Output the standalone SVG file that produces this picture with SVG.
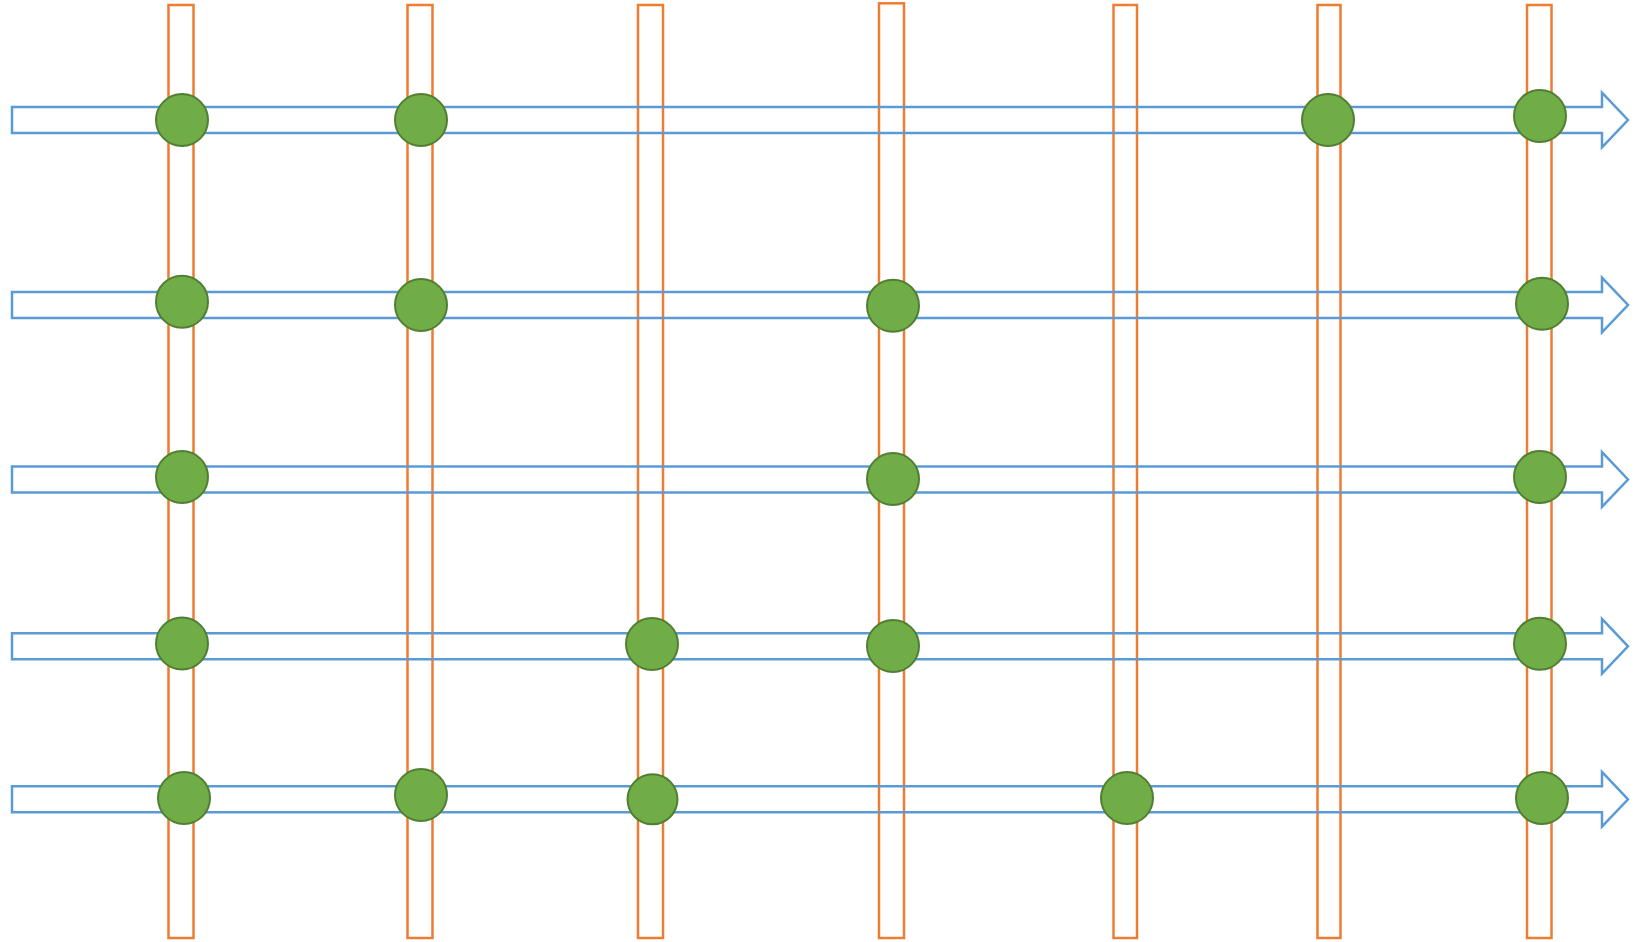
<svg xmlns="http://www.w3.org/2000/svg" width="1647" height="942" viewBox="0 0 1647 942">
<style>
.col{fill:none;stroke:#ED7D31;stroke-width:2.5}
.arr{fill:none;stroke:#5B9BD5;stroke-width:2.5;stroke-linejoin:miter}
.dot{fill:#70AD47;stroke:#507E32;stroke-width:2}
</style>
<defs>
<path id="arrow" d="M12,-13 H1602 V-27.3 L1628,0 L1602,27.3 V13 H12 Z"/>
</defs>
<rect width="1647" height="942" fill="#ffffff"/>
<g id="columns">
<rect id="col1" class="col" x="168.5" y="5" width="25" height="933"/>
<rect id="col2" class="col" x="407.5" y="5" width="25" height="933"/>
<rect id="col3" class="col" x="638" y="5" width="25" height="933"/>
<rect id="col4" class="col" x="879" y="3.3" width="25" height="934.7"/>
<rect id="col5" class="col" x="1113.5" y="5" width="23.5" height="933"/>
<rect id="col6" class="col" x="1317.5" y="5" width="23" height="933"/>
<rect id="col7" class="col" x="1527" y="5" width="24.5" height="933"/>
</g>
<g id="connectors">
<use href="#arrow" class="arr" transform="translate(0,120)"/>
<use href="#arrow" class="arr" transform="translate(0,305)"/>
<use href="#arrow" class="arr" transform="translate(0,479.5)"/>
<use href="#arrow" class="arr" transform="translate(0,646.3)"/>
<use href="#arrow" class="arr" transform="translate(0,799.3)"/>
</g>
<g id="nodes">
<g id="r1c1"><circle class="dot" cx="182" cy="120" r="26"/></g>
<g id="r1c2"><circle class="dot" cx="421" cy="120" r="26"/></g>
<g id="r1c6"><circle class="dot" cx="1328" cy="120" r="26"/></g>
<g id="r1c7"><circle class="dot" cx="1540" cy="116" r="26"/></g>
<g id="r2c1"><circle class="dot" cx="182" cy="301.7" r="26"/></g>
<g id="r2c2"><circle class="dot" cx="421" cy="305" r="26"/></g>
<g id="r2c4"><circle class="dot" cx="893" cy="305.7" r="26"/></g>
<g id="r2c7"><circle class="dot" cx="1542" cy="303.7" r="26"/></g>
<g id="r3c1"><circle class="dot" cx="182" cy="477" r="26"/></g>
<g id="r3c4"><circle class="dot" cx="893" cy="479" r="26"/></g>
<g id="r3c7"><circle class="dot" cx="1540" cy="477" r="26"/></g>
<g id="r4c1"><circle class="dot" cx="182" cy="643.5" r="26"/></g>
<g id="r4c3"><circle class="dot" cx="652" cy="644" r="26"/></g>
<g id="r4c4"><circle class="dot" cx="893" cy="646" r="26"/></g>
<g id="r4c7"><circle class="dot" cx="1540" cy="643.7" r="26"/></g>
<g id="r5c1"><circle class="dot" cx="184" cy="798" r="26"/></g>
<g id="r5c2"><circle class="dot" cx="421" cy="795" r="26"/></g>
<g id="r5c3"><circle class="dot" cx="652.5" cy="799.3" r="25"/></g>
<g id="r5c5"><circle class="dot" cx="1127" cy="798" r="26"/></g>
<g id="r5c7"><circle class="dot" cx="1542" cy="798" r="26"/></g>
</g>
</svg>
